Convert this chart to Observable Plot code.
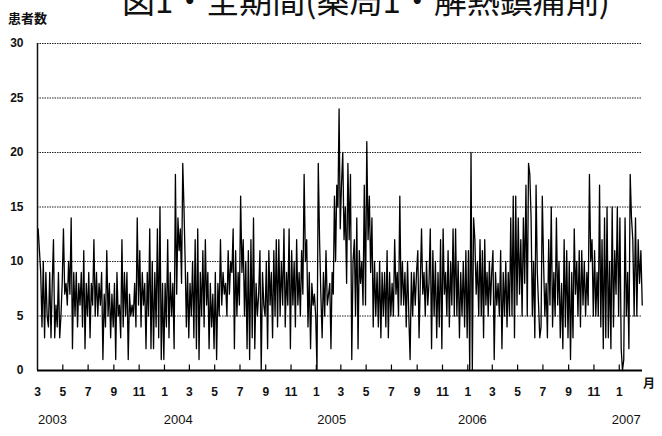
<!DOCTYPE html>
<html><head><meta charset="utf-8">
<script src="https://cdn.jsdelivr.net/npm/d3@7"></script>
<script src="https://cdn.jsdelivr.net/npm/@observablehq/plot@0.6"></script>
<style>
body{margin:0;background:#fff;}
#wrap{position:relative;width:662px;height:436px;overflow:hidden;font-family:"Liberation Sans",Arial,sans-serif;}
#title{position:absolute;left:122px;top:-18px;font-family:"Noto Sans CJK JP";font-size:33px;line-height:34px;white-space:nowrap;color:#111;}
#ylab{position:absolute;left:8px;top:8px;font-family:"Noto Sans CJK JP";font-weight:bold;font-size:13px;color:#111;}
#xunit{position:absolute;left:643px;top:374px;font-family:"Noto Sans CJK JP";font-weight:bold;font-size:12px;color:#111;}
</style></head><body>
<div id="wrap"><div id="chart"></div><div id="title">図1・全期間(薬局1・解熱鎮痛剤)</div><div id="ylab">患者数</div><div id="xunit">月</div></div>
<script>
// patient counts, ~10 readings per month, March 2003 .. Feb 2007
const v2003 = [
  [13,11,9,4,10,3,9,5,4,9],
  [3,8,12,3,6,4,9,3,5,8],
  [13,7,8,6,10,7,14,2,9,5],
  [9,4,8,6,9,4,11,2,8,5],
  [9,3,8,6,12,5,9,5,8,6],
  [9,1,7,4,11,5,8,3,7,4],
  [8,1,9,5,6,3,12,4,9,5],
  [9,1,7,5,6,5,8,4,14,6],
  [11,4,9,6,8,2,9,5,13,2],
  [10,2,9,4,13,3,15,1,8,1]
];
const v2004 = [
  [8,4,12,3,9,5,8,2,18,7],
  [14,11,13,8,19,15,10,4,9,3],
  [8,5,10,3,12,2,13,1,9,5],
  [11,4,12,6,9,2,8,4,7,2],
  [9,1,8,5,12,6,9,7,8,5],
  [11,7,10,9,13,2,11,5,9,6],
  [16,9,12,5,10,2,11,1,12,3],
  [14,2,8,5,7,11,0,9,6,5],
  [10,2,11,6,9,3,11,5,12,4],
  [12,5,10,6,13,4,9,6,13,2],
  [11,6,10,4,12,6,9,5,11,7],
  [18,10,12,4,9,2,8,6,7,5]
];
const v2005 = [
  [0,19,12,7,3,9,5,11,6,7],
  [8,2,9,7,16,10,17,15,24,13],
  [17,20,12,15,8,19,12,18,1,10],
  [12,5,14,2,11,8,10,6,17,6],
  [21,12,16,9,14,4,10,5,9,4],
  [10,3,9,5,9,4,11,3,9,5],
  [8,5,12,7,9,5,16,6,10,6],
  [9,4,10,5,1,9,5,9,6,9],
  [11,3,8,13,7,9,5,10,6,8],
  [13,2,11,5,10,3,9,4,12,2],
  [13,7,9,5,11,4,10,6,13,5],
  [13,5,10,3,9,5,10,4,11,3]
];
const v2006 = [
  [11,0,20,0,14,12,7,10,5,12],
  [5,11,3,12,6,9,5,10,6,9],
  [11,1,9,6,8,5,11,2,9,5],
  [10,4,9,5,14,5,16,3,16,6],
  [14,7,12,5,14,8,17,5,19,18],
  [14,5,10,3,17,9,6,3,4,16],
  [10,5,8,3,12,6,15,4,9,5],
  [14,6,10,3,8,2,12,4,11,3],
  [10,1,9,3,13,7,10,5,11,4],
  [11,6,10,5,9,6,18,10,12,5],
  [11,5,9,5,17,4,12,2,14,3],
  [15,3,10,2,15,4,11,7,15,5]
];
const v2007 = [
  [14,2,0,1,14,5,9,2,18,14],
  [12,5,14,5,12,8,11,6]
];
const yTicks = [0,5,10,15,20,25,30];
const yearLabels = ["2003","2004","2005","2006","2007"];
const yearLabelDates = ["2003-04-06","2004-02-03","2005-02-07","2006-01-12","2007-01-18"];

const startYear = 2003, startMonth = 2;
const lastDays = 26;
const allMonths = [...v2003, ...v2004, ...v2005, ...v2006, ...v2007];
const data = [];
allMonths.forEach((vals, k) => {
  const y = startYear + Math.floor((startMonth + k) / 12);
  const m = (startMonth + k) % 12;
  const t0 = Date.UTC(y, m, 1);
  const days = k === allMonths.length - 1 ? lastDays : (Date.UTC(y, m + 1, 1) - t0) / 864e5;
  vals.forEach((v, i) => data.push({date: new Date(t0 + (i + 0.5) / vals.length * days * 864e5), value: v}));
});
const domainX = [new Date(Date.UTC(2003, 2, 1)), new Date(Date.UTC(2007, 1, lastDays))];
const monthTicks = d3.utcMonth.every(2).range(domainX[0], new Date(Date.UTC(2007, 1, 2)));
const years = yearLabels.map((s, i) => ({label: s, date: new Date(yearLabelDates[i]), y: 0}));

const chart = Plot.plot({
  width: 662, height: 436,
  marginLeft: 37, marginRight: 20, marginTop: 43, marginBottom: 66,
  style: {fontFamily: "'Liberation Sans', Arial, sans-serif", color: "#111", background: "white"},
  x: {type: "utc", domain: domainX},
  y: {type: "linear", domain: [0, 30]},
  marks: [
    Plot.ruleY(yTicks.filter(d => d > 0), {stroke: "#222", strokeWidth: 1, strokeDasharray: "1.5,1"}),
    Plot.ruleX([domainX[0]], {stroke: "#111", strokeWidth: 1.5}),
    Plot.line(data, {x: "date", y: "value", stroke: "#000", strokeWidth: 1.3}),
    Plot.ruleY([0], {stroke: "#000", strokeWidth: 1.8}),
    Plot.ruleX(monthTicks.slice(1), {x: d => d, y1: 0, y2: 0.5, stroke: "#000", strokeWidth: 1.2}),
    Plot.axisY({ticks: yTicks, tickSize: 0, tickPadding: 14, fontSize: 12, fontWeight: "bold", label: null}),
    Plot.axisX({ticks: monthTicks, tickFormat: d => d.getUTCMonth() + 1, tickSize: 0, tickPadding: 17, fontSize: 12, fontWeight: "bold", label: null}),
    Plot.text(years, {x: "date", y: "y", text: "label", dy: 49, fontSize: 13, fill: "#111"})
  ]
});
document.getElementById("chart").appendChild(chart);
</script>
</body></html>
